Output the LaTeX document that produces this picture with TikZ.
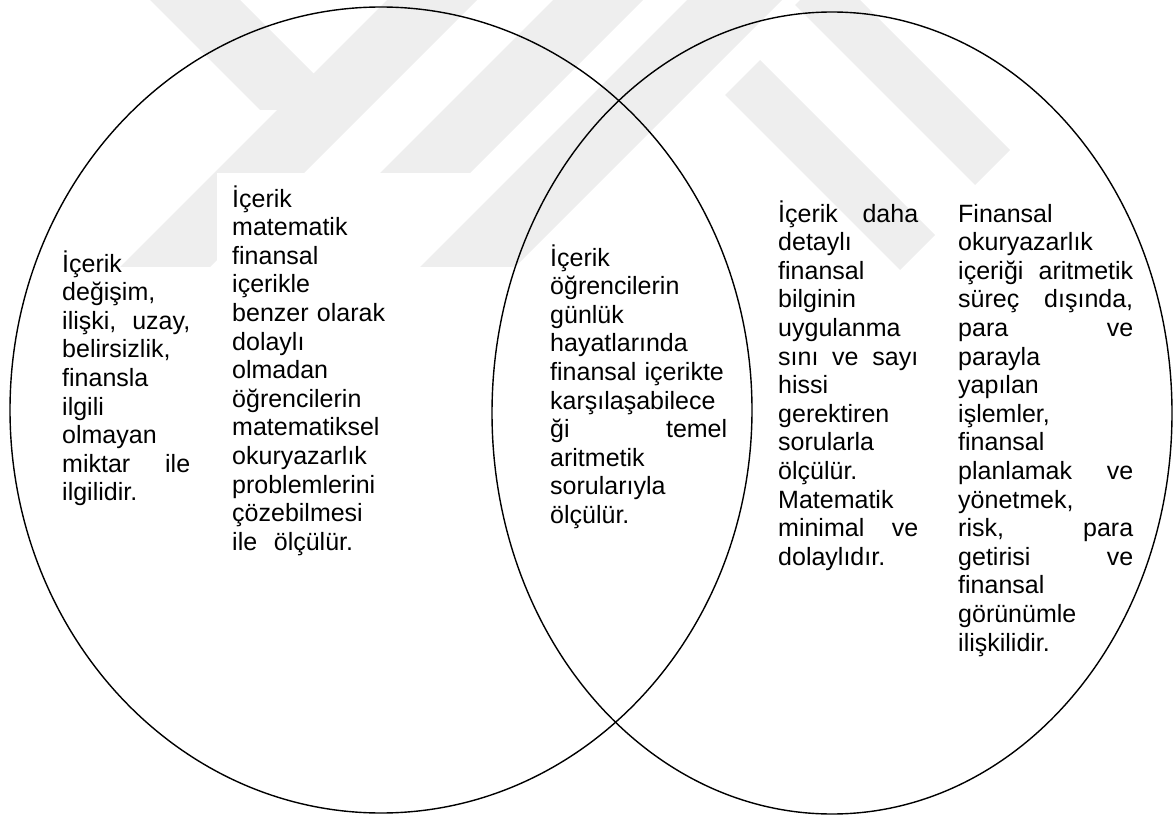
\documentclass[tikz,border=0pt]{standalone}
\usepackage{fontspec}
\setmainfont{Liberation Sans}
\usetikzlibrary{shapes.geometric}
\definecolor{mark}{HTML}{EEEEEE}
\newcommand{\firstline}{\rule{0pt}{24pt}}
\begin{document}
\begin{tikzpicture}[x=1pt,y=-1pt,
  oval/.style={draw=black, line width=1.4pt, ellipse, inner sep=0pt, outer sep=0pt},
  txt/.style={anchor=north west, inner sep=0pt, align=left,
              font=\fontsize{25}{28.6}\selectfont},
  band/.style={fill=mark, draw=none},
]
\useasboundingbox (0,0) rectangle (1175,818);

% faint emblem in the background
\fill[band] (150,0) -- (240,0) -- (350,110) -- (260,110) -- cycle;
\fill[band] (120,267) -- (210,267) -- (477,0) -- (387,0) -- cycle;
\fill[band] (380,173) -- (470,173) -- (643,0) -- (553,0) -- cycle;
\fill[band] (420,267) -- (515,267) -- (782,0) -- (687,0) -- cycle;
\fill[band] (795,5) -- (830,-30) -- (1010,150) -- (975,185) -- cycle;
\fill[band] (725,95) -- (760,60) -- (935,235) -- (900,270) -- cycle;

% the two overlapping sets
\node[oval, minimum width=742pt, minimum height=806pt] (leftset) at (381,410) {};
\node[oval, minimum width=680pt, minimum height=802pt] (rightset) at (832,413) {};

% white panel behind the second column
\fill[white] (217,173) rectangle (418,575);

% mathematical literacy only
\node[txt, text width=128pt] (col1) at (62,248) {\firstline İçerik\\
değişim,\\
ilişki, \hfill uzay,\\
belirsizlik,\\
finansla\\
ilgili\\
olmayan\\
miktar \hfill ile\\
ilgilidir.};

\node[txt, text width=190pt] (col2) at (232,183) {\firstline İçerik\\
matematik\\
finansal\\
içerikle\\
benzer olarak\\
dolaylı\\
olmadan\\
öğrencilerin\\
matematiksel\\
okuryazarlık\\
problemlerini\\
çözebilmesi\\
ile\ \ ölçülür.};

% overlap of the two sets
\node[txt, text width=177pt] (col3) at (550,242) {\firstline İçerik\\
öğrencilerin\\
günlük\\
hayatlarında\\
finansal içerikte\\
karşılaşabilece\\
ği \hfill temel\\
aritmetik\\
sorularıyla\\
ölçülür.};

% financial literacy only
\node[txt, text width=140pt] (col4) at (778,198) {\firstline İçerik \hfill daha\\
detaylı\\
finansal\\
bilginin\\
uygulanma\\
sını \hfill ve \hfill sayı\\
hissi\\
gerektiren\\
sorularla\\
ölçülür.\\
Matematik\\
minimal \hfill ve\\
dolaylıdır.};

\node[txt, text width=175pt] (col5) at (958,198) {\firstline Finansal\\
okuryazarlık\\
içeriği \hfill aritmetik\\
süreç \hfill dışında,\\
para \hfill ve\\
parayla\\
yapılan\\
işlemler,\\
finansal\\
planlamak \hfill ve\\
yönetmek,\\
risk, \hfill para\\
getirisi \hfill ve\\
finansal\\
görünümle\\
ilişkilidir.};
\end{tikzpicture}
\end{document}
